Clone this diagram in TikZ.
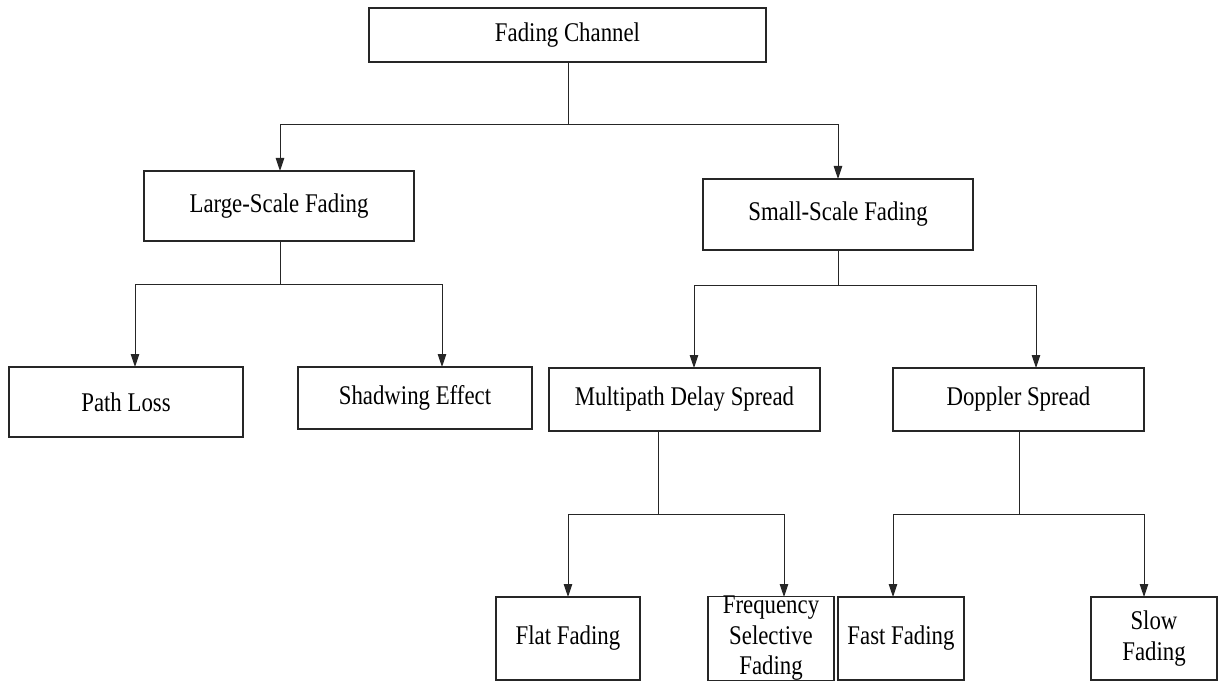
\documentclass[tikz,border=0pt]{standalone}
\usepackage{fontspec}
\setmainfont[FakeStretch=0.845]{Liberation Serif}
\usetikzlibrary{arrows.meta}
\begin{document}
\begin{tikzpicture}[x=1pt,y=-1pt,
  box/.style={draw=black!85, line width=1.3pt, inner sep=0pt, align=center,
    font=\fontsize{27}{30.5}\selectfont},
  link/.style={draw=black!85, line width=1pt},
  arr/.style={link, -{Triangle[length=13pt,width=8.5pt]}}]
\useasboundingbox (0,0) rectangle (1219,682);

% boxes
\node[box, minimum width=397pt, minimum height=54pt] (fc)   at (567.5,35)    {Fading Channel};
\node[box, minimum width=270pt, minimum height=70pt] (lsf)  at (279,206)     {Large-Scale Fading};
\node[box, minimum width=270pt, minimum height=71pt] (ssf)  at (838,214.5)   {Small-Scale Fading};
\node[box, minimum width=234pt, minimum height=70pt] (pl)   at (126,402)     {Path Loss};
\node[box, minimum width=234pt, minimum height=62pt] (se)   at (415,398)     {Shadwing Effect};
\node[box, minimum width=271pt, minimum height=63pt] (mds)  at (684.5,399.5) {Multipath Delay Spread};
\node[box, minimum width=251pt, minimum height=63pt] (ds)   at (1018.5,399.5){Doppler Spread};
\node[box, minimum width=144pt, minimum height=83pt] (flat) at (568,638.5)   {Flat Fading};
\node[box, minimum width=126pt, minimum height=83pt] (fsf)  at (771,638.5)   {Frequency\\Selective\\Fading};
\node[box, minimum width=126pt, minimum height=83pt] (fast) at (901,638.5)   {Fast Fading};
\node[box, minimum width=126pt, minimum height=83pt] (slow) at (1154,638.5)  {Slow\\Fading};

% junction points of the buses
\coordinate (j0) at (568,125);
\coordinate (j1) at (280,284);
\coordinate (j2) at (838,285);
\coordinate (j3) at (658,514);
\coordinate (j4) at (1019,514);

% entry points on the children
\coordinate (lsfin)  at (280,171);
\coordinate (ssfin)  at (838,179);
\coordinate (plin)   at (135,367);
\coordinate (sein)   at (442,367);
\coordinate (mdsin)  at (694,368);
\coordinate (dsin)   at (1036,368);
\coordinate (flatin) at (568,597);
\coordinate (fsfin)  at (784,597);
\coordinate (fastin) at (893,597);
\coordinate (slowin) at (1144,597);

% Fading Channel
\draw[link] (fc.south -| j0) -- (j0);
\draw[arr] (j0) -| (lsfin);
\draw[arr] (j0) -| (ssfin);
% Large-Scale Fading
\draw[link] (lsf.south -| j1) -- (j1);
\draw[arr] (j1) -| (plin);
\draw[arr] (j1) -| (sein);
% Small-Scale Fading
\draw[link] (ssf.south -| j2) -- (j2);
\draw[arr] (j2) -| (mdsin);
\draw[arr] (j2) -| (dsin);
% Multipath Delay Spread
\draw[link] (mds.south -| j3) -- (j3);
\draw[arr] (j3) -| (flatin);
\draw[arr] (j3) -| (fsfin);
% Doppler Spread
\draw[link] (ds.south -| j4) -- (j4);
\draw[arr] (j4) -| (fastin);
\draw[arr] (j4) -| (slowin);
\end{tikzpicture}
\end{document}
